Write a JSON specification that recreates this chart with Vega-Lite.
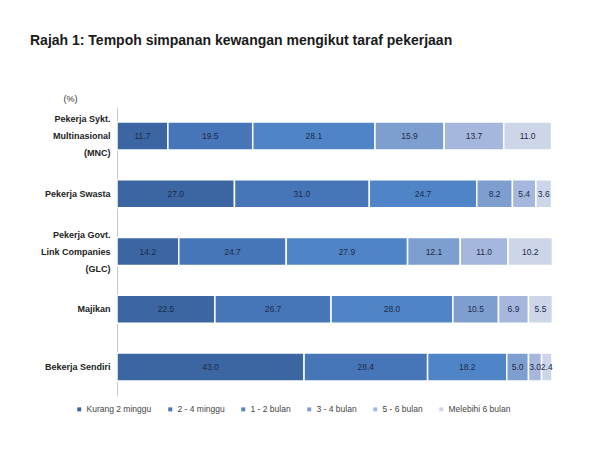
{
  "$schema": "https://vega.github.io/schema/vega-lite/v6.json",
  "description": "Rajah 1: Tempoh simpanan kewangan mengikut taraf pekerjaan",
  "autosize": "none",
  "padding": {"left": 117, "top": 107, "right": 48, "bottom": 54},
  "width": 435,
  "height": 289,
  "background": "white",
  "config": {
    "view": {"stroke": null},
    "font": "Liberation Sans"
  },
  "title": {
    "text": "Rajah 1: Tempoh simpanan kewangan mengikut taraf pekerjaan",
    "anchor": "start",
    "frame": "group",
    "dx": -87,
    "offset": 46,
    "font": "Liberation Sans",
    "fontSize": 14,
    "fontWeight": "bold",
    "color": "#1a1a1a"
  },
  "data": {
    "values": [
      {"taraf": "Pekerja Sykt.|Multinasional|(MNC)", "tempoh": "Kurang 2 minggu", "urutan": 1, "peratus": 11.7},
      {"taraf": "Pekerja Sykt.|Multinasional|(MNC)", "tempoh": "2 - 4 minggu", "urutan": 2, "peratus": 19.5},
      {"taraf": "Pekerja Sykt.|Multinasional|(MNC)", "tempoh": "1 - 2 bulan", "urutan": 3, "peratus": 28.1},
      {"taraf": "Pekerja Sykt.|Multinasional|(MNC)", "tempoh": "3 - 4 bulan", "urutan": 4, "peratus": 15.9},
      {"taraf": "Pekerja Sykt.|Multinasional|(MNC)", "tempoh": "5 - 6 bulan", "urutan": 5, "peratus": 13.7},
      {"taraf": "Pekerja Sykt.|Multinasional|(MNC)", "tempoh": "Melebihi 6 bulan", "urutan": 6, "peratus": 11.0},
      {"taraf": "Pekerja Swasta", "tempoh": "Kurang 2 minggu", "urutan": 1, "peratus": 27.0},
      {"taraf": "Pekerja Swasta", "tempoh": "2 - 4 minggu", "urutan": 2, "peratus": 31.0},
      {"taraf": "Pekerja Swasta", "tempoh": "1 - 2 bulan", "urutan": 3, "peratus": 24.7},
      {"taraf": "Pekerja Swasta", "tempoh": "3 - 4 bulan", "urutan": 4, "peratus": 8.2},
      {"taraf": "Pekerja Swasta", "tempoh": "5 - 6 bulan", "urutan": 5, "peratus": 5.4},
      {"taraf": "Pekerja Swasta", "tempoh": "Melebihi 6 bulan", "urutan": 6, "peratus": 3.6},
      {"taraf": "Pekerja Govt.|Link Companies|(GLC)", "tempoh": "Kurang 2 minggu", "urutan": 1, "peratus": 14.2},
      {"taraf": "Pekerja Govt.|Link Companies|(GLC)", "tempoh": "2 - 4 minggu", "urutan": 2, "peratus": 24.7},
      {"taraf": "Pekerja Govt.|Link Companies|(GLC)", "tempoh": "1 - 2 bulan", "urutan": 3, "peratus": 27.9},
      {"taraf": "Pekerja Govt.|Link Companies|(GLC)", "tempoh": "3 - 4 bulan", "urutan": 4, "peratus": 12.1},
      {"taraf": "Pekerja Govt.|Link Companies|(GLC)", "tempoh": "5 - 6 bulan", "urutan": 5, "peratus": 11.0},
      {"taraf": "Pekerja Govt.|Link Companies|(GLC)", "tempoh": "Melebihi 6 bulan", "urutan": 6, "peratus": 10.2},
      {"taraf": "Majikan", "tempoh": "Kurang 2 minggu", "urutan": 1, "peratus": 22.5},
      {"taraf": "Majikan", "tempoh": "2 - 4 minggu", "urutan": 2, "peratus": 26.7},
      {"taraf": "Majikan", "tempoh": "1 - 2 bulan", "urutan": 3, "peratus": 28.0},
      {"taraf": "Majikan", "tempoh": "3 - 4 bulan", "urutan": 4, "peratus": 10.5},
      {"taraf": "Majikan", "tempoh": "5 - 6 bulan", "urutan": 5, "peratus": 6.9},
      {"taraf": "Majikan", "tempoh": "Melebihi 6 bulan", "urutan": 6, "peratus": 5.5},
      {"taraf": "Bekerja Sendiri", "tempoh": "Kurang 2 minggu", "urutan": 1, "peratus": 43.0},
      {"taraf": "Bekerja Sendiri", "tempoh": "2 - 4 minggu", "urutan": 2, "peratus": 28.4},
      {"taraf": "Bekerja Sendiri", "tempoh": "1 - 2 bulan", "urutan": 3, "peratus": 18.2},
      {"taraf": "Bekerja Sendiri", "tempoh": "3 - 4 bulan", "urutan": 4, "peratus": 5.0},
      {"taraf": "Bekerja Sendiri", "tempoh": "5 - 6 bulan", "urutan": 5, "peratus": 3.0},
      {"taraf": "Bekerja Sendiri", "tempoh": "Melebihi 6 bulan", "urutan": 6, "peratus": 2.4}
    ]
  },
  "transform": [
    {
      "stack": "peratus",
      "groupby": ["taraf"],
      "sort": [{"field": "urutan", "order": "ascending"}],
      "as": ["mula", "akhir"]
    }
  ],
  "encoding": {
    "y": {
      "field": "taraf",
      "type": "nominal",
      "sort": null,
      "scale": {"paddingInner": 0.515, "paddingOuter": 0.2575},
      "axis": {
        "title": "(%)",
        "titleAngle": 0,
        "titleAlign": "center",
        "titleBaseline": "bottom",
        "titleX": -47,
        "titleY": -4,
        "titleFontSize": 9,
        "titleFontWeight": "normal",
        "titleColor": "#333",
        "labelExpr": "split(datum.label, '|')",
        "labelFontSize": 9,
        "labelFontWeight": "bold",
        "labelColor": "#222",
        "labelPadding": 7,
        "labelLineHeight": 17,
        "labelOffset": {"condition": {"test": "indexof(datum.label, '|') >= 0", "value": -17}, "value": 0},
        "ticks": false,
        "domainColor": "#c8c8c8",
        "domainWidth": 1
      }
    },
    "x": {
      "field": "mula",
      "type": "quantitative",
      "scale": {"domain": [0, 100], "nice": false},
      "axis": null
    }
  },
  "layer": [
    {
      "mark": {"type": "bar", "stroke": "white", "strokeWidth": 1.5},
      "encoding": {
        "x2": {"field": "akhir"},
        "color": {
          "field": "tempoh",
          "type": "nominal",
          "sort": ["Kurang 2 minggu", "2 - 4 minggu", "1 - 2 bulan", "3 - 4 bulan", "5 - 6 bulan", "Melebihi 6 bulan"],
          "scale": {
            "domain": ["Kurang 2 minggu", "2 - 4 minggu", "1 - 2 bulan", "3 - 4 bulan", "5 - 6 bulan", "Melebihi 6 bulan"],
            "range": ["#3b66a2", "#4676b8", "#4f85c6", "#7f9ed0", "#a5b7dc", "#cdd6e9"]
          },
          "legend": {
            "title": null,
            "orient": "none",
            "legendX": -42,
            "legendY": 298,
            "direction": "horizontal",
            "columns": 6,
            "symbolType": "square",
            "symbolSize": 16,
            "symbolStrokeWidth": 0,
            "labelFontSize": 8.5,
            "labelColor": "#444",
            "labelOffset": 3,
            "columnPadding": 14
          }
        }
      }
    },
    {
      "transform": [{"calculate": "(datum.mula + datum.akhir) / 2", "as": "tengah"}],
      "mark": {
        "type": "text",
        "fontSize": 8.5,
        "color": "#1c2b4d",
        "align": "center",
        "baseline": "middle"
      },
      "encoding": {
        "x": {"field": "tengah", "type": "quantitative"},
        "text": {"field": "peratus", "type": "quantitative", "format": ".1f"}
      }
    }
  ]
}
